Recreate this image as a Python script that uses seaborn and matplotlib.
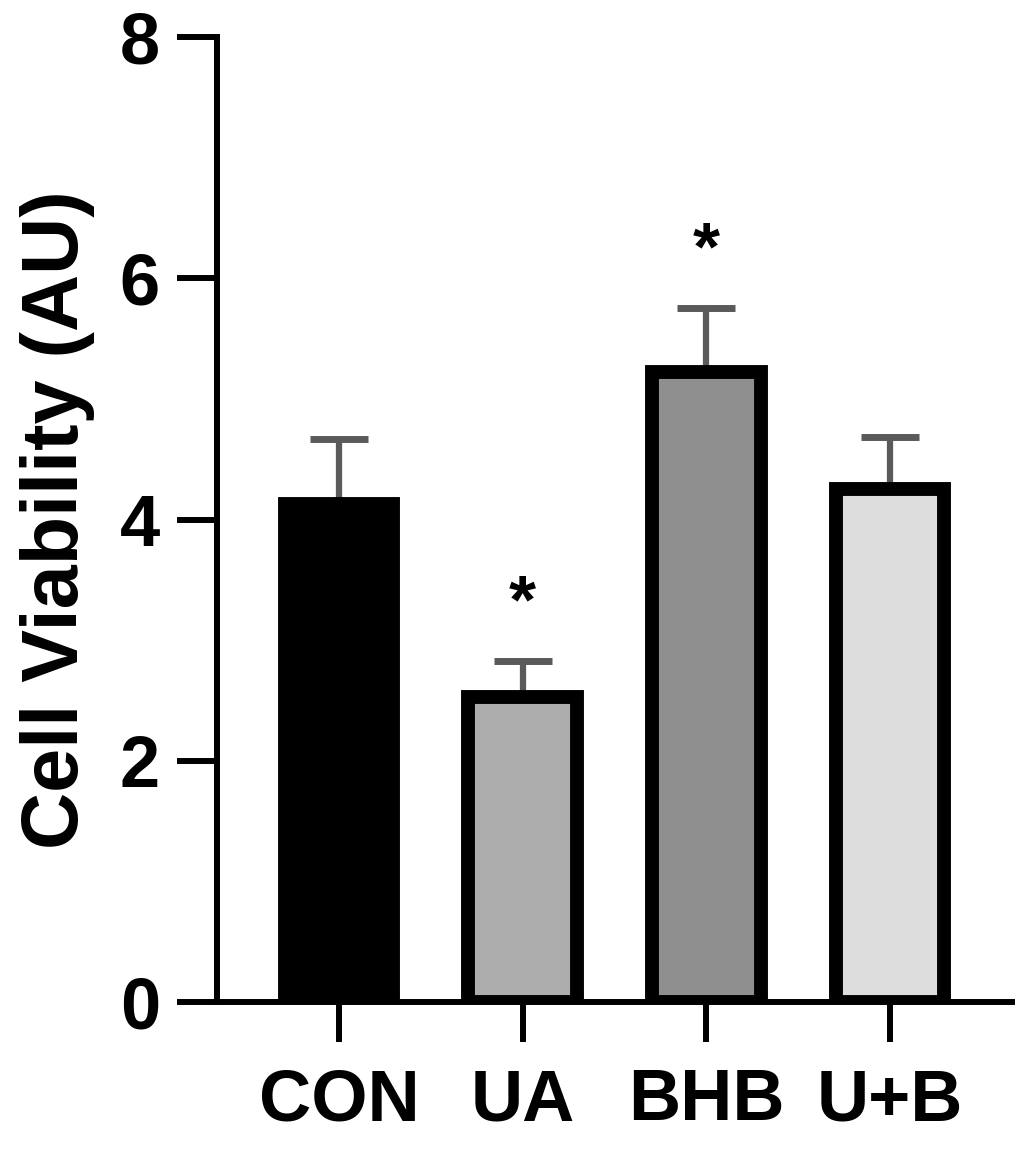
"""
Cell viability bar chart (CON / UA / BHB / U+B)
"""

import numpy as np
import matplotlib
matplotlib.use('Agg')
import matplotlib.pyplot as plt
import seaborn as sns

# data
groups = ['CON', 'UA', 'BHB', 'U+B']
viability = [4.13, 2.53, 5.22, 4.25]
sem = [0.54, 0.30, 0.53, 0.43]
significance = ['', '*', '*', '']
y_ticks = [0, 2, 4, 6, 8]

bar_colors = ['#000000', '#adadad', '#8f8f8f', '#dddddd']

sns.set_style('ticks')
plt.rcParams['font.family'] = ['Liberation Sans', 'DejaVu Sans']
plt.rcParams['font.weight'] = 'bold'
plt.rcParams['text.color'] = 'black'
plt.rcParams['axes.labelcolor'] = 'black'
plt.rcParams['xtick.color'] = 'black'
plt.rcParams['ytick.color'] = 'black'

fig = plt.figure(figsize=(10.27, 11.49), dpi=100)
ax = fig.add_axes([217 / 1027, 147 / 1149, (1012 - 217) / 1027, (1002 - 37) / 1149])

sns.barplot(
    x=groups,
    y=viability,
    hue=groups,
    palette=bar_colors,
    legend=False,
    errorbar=None,
    width=0.59,
    edgecolor='black',
    linewidth=10,
    ax=ax
)

# upward-only error bars, drawn behind the bars
x_pos = np.arange(len(groups))
ax.errorbar(
    x_pos, viability,
    yerr=[np.zeros(len(sem)), sem],
    fmt='none',
    ecolor='#5a5a5a',
    elinewidth=4.5,
    capsize=21,
    capthick=5,
    zorder=0.5
)

# significance stars above error bars
for i, mark in enumerate(significance):
    if mark:
        ax.text(x_pos[i], viability[i] + sem[i] + 0.32, mark,
                ha='center', va='baseline', fontsize=50,
                fontweight='bold', color='black')

ax.set_xlim(-0.664, 3.664)
ax.set_ylim(0, 8)
ax.set_yticks(y_ticks)
ax.set_yticklabels([str(t) for t in y_ticks])

ax.set_ylabel('Cell Viability (AU)', fontsize=57, fontweight='bold',
              labelpad=18, color='black')
ax.set_xlabel('')

sns.despine(ax=ax)
for side in ['left', 'bottom']:
    ax.spines[side].set_linewidth(4.3)
    ax.spines[side].set_color('black')

ax.tick_params(axis='both', which='major', length=29, width=4.3,
               color='black', labelcolor='black', labelsize=52, direction='out')
ax.tick_params(axis='y', pad=12)
ax.tick_params(axis='x', pad=18)
for label in ax.get_xticklabels() + ax.get_yticklabels():
    label.set_fontweight('bold')

plt.savefig('out.png', dpi=100)
